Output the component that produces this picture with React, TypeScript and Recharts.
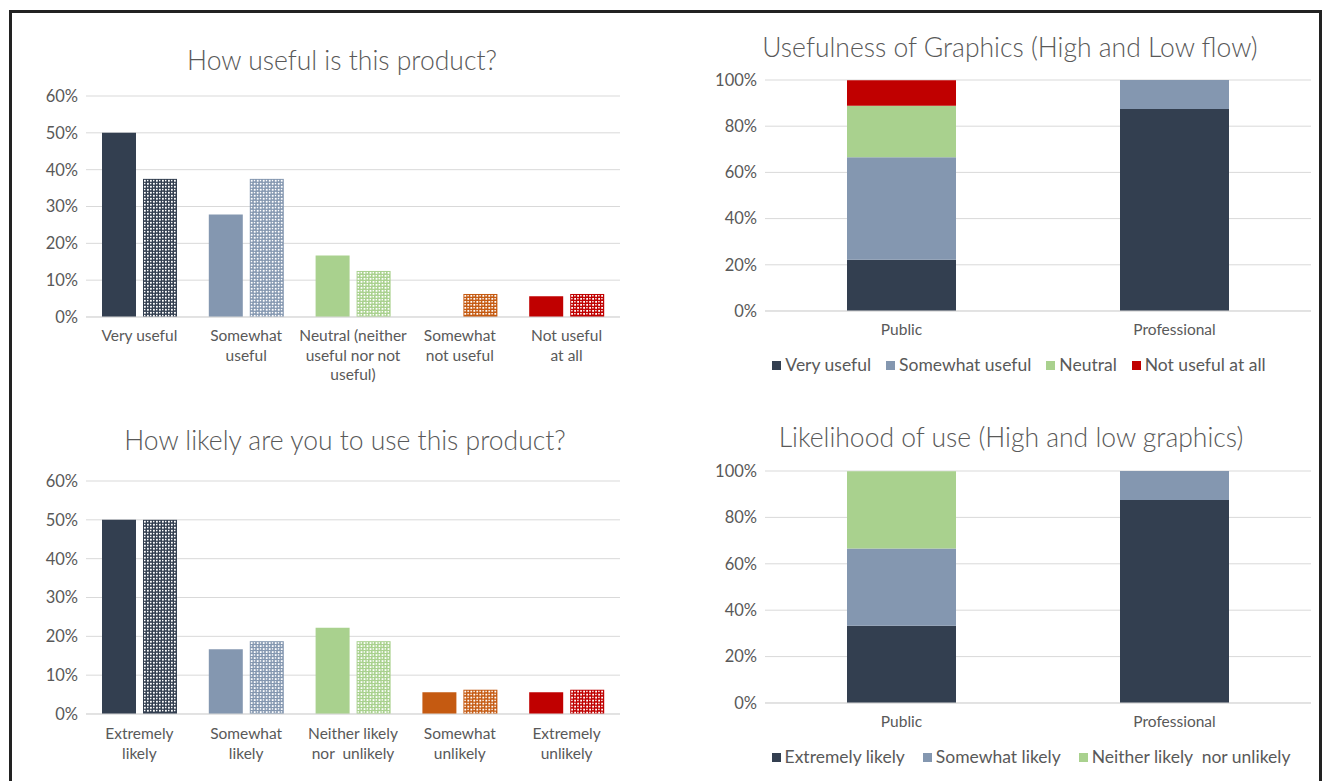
import { Bar, BarChart, CartesianGrid, Cell, XAxis, YAxis } from "recharts";

// left charts: per-category bars, two groups (solid = public, patterned = professional)
const usefulCats = [
  "Very useful",
  "Somewhat\nuseful",
  "Neutral (neither\nuseful nor not\nuseful)",
  "Somewhat\nnot useful",
  "Not useful\nat all",
];
const usefulPublic = [50, 27.8, 16.7, 0, 5.6];
const usefulProfessional = [37.5, 37.5, 12.5, 6.25, 6.25];

const likelyCats = [
  "Extremely\nlikely",
  "Somewhat\nlikely",
  "Neither likely\nnor  unlikely",
  "Somewhat\nunlikely",
  "Extremely\nunlikely",
];
const likelyPublic = [50, 16.7, 22.2, 5.6, 5.6];
const likelyProfessional = [50, 18.75, 18.75, 6.25, 6.25];

const catColors = ["#333F50", "#8497B0", "#A9D18E", "#C55A11", "#C00000"];
const leftTicks = [0, 10, 20, 30, 40, 50, 60];

// right charts: 100% stacked bars
const groups = ["Public", "Professional"];
const usefulnessSeries = ["Very useful", "Somewhat useful", "Neutral", "Not useful at all"];
const usefulnessValues = [
  [22.2, 87.5],
  [44.4, 12.5],
  [22.2, 0],
  [11.1, 0],
];
const usefulnessColors = ["#333F50", "#8497B0", "#A9D18E", "#C00000"];

const likelihoodSeries = ["Extremely likely", "Somewhat likely", "Neither likely  nor unlikely"];
const likelihoodValues = [
  [33.3, 87.5],
  [33.3, 12.5],
  [33.3, 0],
];
const likelihoodColors = ["#333F50", "#8497B0", "#A9D18E"];
const rightTicks = [0, 20, 40, 60, 80, 100];

const FONT = "Lato, 'Open Sans', sans-serif";
const TEXT = "#595959";
const GRID = "#D9D9D9";

const pct = (v: number) => `${v}%`;

function WrapTick(props: any) {
  const { x, y, payload, first = 16 } = props;
  const lines = String(payload.value).split("\n");
  return (
    <text x={x} y={y} textAnchor="middle" fill={TEXT} fontSize={15.5} fontFamily={FONT} style={{ whiteSpace: "pre" }}>
      {lines.map((l, i) => (
        <tspan key={i} x={x} dy={i === 0 ? first : 19.5}>
          {l}
        </tspan>
      ))}
    </text>
  );
}

// patterned bar: the category colour with a fine white dot grid over it
function DottedBar(props: any) {
  const { x, y, width, height, payload } = props;
  if (!height || height <= 0) return null;
  const color = payload.color;
  const cols = Math.floor(width / 3);
  const rows = Math.floor(height / 3);
  const dots: any[] = [];
  for (let r = 0; r < rows; r++) {
    for (let c = 0; c < cols; c++) {
      const big = (r + c) % 2 === 0;
      dots.push(
        <rect
          key={`${r}-${c}`}
          x={x + 1 + c * 3}
          y={y + 1 + r * 3}
          width={big ? 1.8 : 1.4}
          height={big ? 1.8 : 1.4}
          fill="#fff"
        />
      );
    }
  }
  return (
    <g>
      <rect x={x} y={y} width={width} height={height} fill={color} />
      {dots}
    </g>
  );
}

function PairChart({ cats, a, b, height, xHeight, tickDy }: any) {
  const data = cats.map((c: string, i: number) => ({ cat: c, a: a[i], b: b[i], color: catColors[i] }));
  return (
    <BarChart width={640} height={height} data={data} margin={{ top: 16, right: 20, left: 0, bottom: 0 }} barGap={7}>
      <CartesianGrid vertical={false} stroke={GRID} />
      <XAxis
        dataKey="cat"
        axisLine={{ stroke: GRID }}
        tickLine={false}
        height={xHeight}
        interval={0}
        tick={<WrapTick first={tickDy} />}
      />
      <YAxis
        width={86}
        domain={[0, 60]}
        ticks={leftTicks}
        tickFormatter={pct}
        axisLine={false}
        tickLine={false}
        tick={{ fill: TEXT, fontSize: 16.5, fontFamily: FONT }}
      />
      <Bar dataKey="a" barSize={34} isAnimationActive={false}>
        {data.map((_: any, i: number) => (
          <Cell key={i} fill={catColors[i]} />
        ))}
      </Bar>
      <Bar dataKey="b" barSize={34} isAnimationActive={false} shape={DottedBar} />
    </BarChart>
  );
}

function StackChart({ series, values, colors, height }: any) {
  const data = groups.map((g, gi) => {
    const row: any = { group: g };
    series.forEach((s: string, si: number) => (row[s] = values[si][gi]));
    return row;
  });
  return (
    <BarChart width={641} height={height} data={data} margin={{ top: 16, right: 10, left: 0, bottom: 0 }}>
      <CartesianGrid vertical={false} stroke={GRID} />
      <XAxis
        dataKey="group"
        axisLine={{ stroke: GRID }}
        tickLine={false}
        height={30}
        tick={<WrapTick first={16} />}
      />
      <YAxis
        width={85}
        domain={[0, 100]}
        ticks={rightTicks}
        tickFormatter={pct}
        axisLine={false}
        tickLine={false}
        tick={{ fill: TEXT, fontSize: 16.5, fontFamily: FONT }}
      />
      {series.map((s: string, si: number) => (
        <Bar key={s} dataKey={s} stackId="a" fill={colors[si]} barSize={109} isAnimationActive={false} />
      ))}
    </BarChart>
  );
}

function LegendRow({ series, colors, top, center, gap }: any) {
  return (
    <div
      style={{
        position: "absolute",
        left: center - 330,
        width: 660,
        top,
        display: "flex",
        justifyContent: "center",
        fontFamily: FONT,
        fontSize: 17.5,
        color: TEXT,
        lineHeight: "22px",
        whiteSpace: "pre",
      }}
    >
      {series.map((s: string, i: number) => (
        <span key={s} style={{ display: "flex", alignItems: "center", marginRight: i < series.length - 1 ? gap : 0 }}>
          <span style={{ width: 9, height: 9, background: colors[i], marginRight: 4, display: "inline-block" }} />
          {s}
        </span>
      ))}
    </div>
  );
}

function Title({ text, center, top }: any) {
  return (
    <div
      style={{
        position: "absolute",
        left: center - 320,
        width: 640,
        top,
        textAlign: "center",
        fontFamily: FONT,
        fontSize: 26.5,
        fontWeight: 300,
        lineHeight: "30px",
        color: TEXT,
      }}
    >
      {text}
    </div>
  );
}

export default function App() {
  return (
    <div
      style={{
        position: "absolute",
        left: 0,
        top: 0,
        width: 1323,
        height: 781,
        overflow: "hidden",
        background: "#fff",
      }}
    >
      <div
        style={{
          position: "absolute",
          left: 9,
          top: 10,
          width: 1313,
          height: 771,
          border: "3px solid #222",
          borderBottom: "none",
          boxSizing: "border-box",
        }}
      />

      <Title text="How useful is this product?" center={342} top={45} />
      <div style={{ position: "absolute", left: 0, top: 80 }}>
        <PairChart cats={usefulCats} a={usefulPublic} b={usefulProfessional} height={307} xHeight={70} tickDy={16} />
      </div>

      <Title text="How likely are you to use this product?" center={345} top={425} />
      <div style={{ position: "absolute", left: 0, top: 465 }}>
        <PairChart cats={likelyCats} a={likelyPublic} b={likelyProfessional} height={309} xHeight={60} tickDy={17} />
      </div>

      <Title text="Usefulness of Graphics (High and Low flow)" center={1010} top={32} />
      <div style={{ position: "absolute", left: 680, top: 64 }}>
        <StackChart series={usefulnessSeries} values={usefulnessValues} colors={usefulnessColors} height={277} />
      </div>
      <LegendRow series={usefulnessSeries} colors={usefulnessColors} top={354} center={1019} gap={15} />

      <Title text="Likelihood of use (High and low graphics)" center={1011} top={422} />
      <div style={{ position: "absolute", left: 680, top: 455 }}>
        <StackChart series={likelihoodSeries} values={likelihoodValues} colors={likelihoodColors} height={278} />
      </div>
      <LegendRow series={likelihoodSeries} colors={likelihoodColors} top={746} center={1031} gap={18} />
    </div>
  );
}
